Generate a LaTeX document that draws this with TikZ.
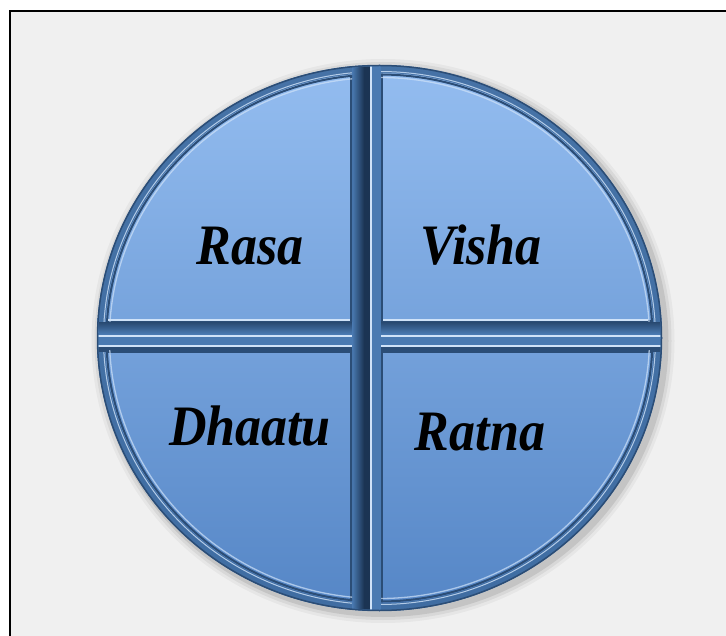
\documentclass[tikz,border=0pt]{standalone}
\usepackage{fontspec}
\setmainfont{Liberation Serif}
\usepackage{graphicx}
\definecolor{Paper}{HTML}{F0F0F0}
\definecolor{Rim}{HTML}{3E6B9F}
\definecolor{RimDark}{HTML}{2B4D76}
\definecolor{Groove}{HTML}{1B3453}
\definecolor{GrooveMid}{HTML}{4A7AB2}
\definecolor{Shine}{HTML}{CFE2F8}
\definecolor{TopBlue}{HTML}{94BDF0}
\definecolor{LowBlue}{HTML}{5586C6}
\newcommand{\tallword}[1]{\scalebox{1}[1.1]{#1}}

\begin{document}
\begin{tikzpicture}[x=1pt,y=-1pt,
  word/.style={font=\bfseries\itshape\fontsize{52}{60}\selectfont,anchor=base,inner sep=0pt},
  bevel/.style={draw=RimDark,line width=4pt},
  shine/.style={draw=Shine,line width=1.3pt}
]
\useasboundingbox (0,0) rectangle (726,636);
\fill[white] (0,0) rectangle (726,636);
\fill[Paper] (10,11) rectangle (726,636);
\draw[line width=2.4pt] (10,636) -- (10,11) -- (726,11);

% soft shadow
\foreach \s/\o in {9/0.04,6/0.06,3/0.09}
  \fill[black,opacity=\o] (383,341) ellipse [x radius=282.5+\s, y radius=273+\s];

% disc and rim
\shade[top color=TopBlue,bottom color=LowBlue] (379.5,338) ellipse [x radius=282.5, y radius=273];
\draw[Rim,line width=8pt,opacity=0.9] (379.5,338) ellipse [x radius=278.5, y radius=269];
\draw[RimDark,line width=1.5pt] (379.5,338) ellipse [x radius=282, y radius=272.5];
\draw[Shine,line width=1pt,opacity=0.8] (379.5,338) ellipse [x radius=276, y radius=266.5];

% grooves
\begin{scope}
  \clip (379.5,338) ellipse [x radius=281, y radius=271.5];
  \shade[top color=RimDark,bottom color=GrooveMid] (0,323) rectangle (760,334);
  \fill[GrooveMid] (0,334) rectangle (760,347);
  \fill[RimDark] (0,347) rectangle (760,352);
  \draw[shine] (0,336) -- (760,336) (0,346) -- (760,346);
  \shade[left color=GrooveMid,right color=Groove] (352,0) rectangle (364,700);
  \fill[Groove] (364,0) rectangle (370,700);
  \fill[GrooveMid] (370,0) rectangle (381,700);
  \draw[shine] (371,0) -- (371,700);
\end{scope}

% bevelled quarters
\foreach \xa/\ya/\xb/\yb in {0/0/352/322, 381/0/760/322, 0/351/352/700, 381/351/760/700}{
  \begin{scope}
    \clip (\xa,\ya) rectangle (\xb,\yb);
    \clip (379.5,338) ellipse [x radius=274, y radius=264.5];
    \draw[bevel] (\xa,\ya) rectangle (\xb,\yb);
    \draw[bevel] (379.5,338) ellipse [x radius=274, y radius=264.5];
    \draw[shine,opacity=0.7] (379.5,338) ellipse [x radius=270, y radius=260.5];
  \end{scope}
}
\draw[shine,line width=2pt] (108,320) -- (350,320);
\draw[shine,line width=2pt] (383,320) -- (648,320);

% labels
\node[word] (rasa) at (250,265) {\tallword{Rasa}};
\node[word] (visha) at (481,265) {\tallword{Visha}};
\node[word] (dhaatu) at (250,446) {\tallword{Dhaatu}};
\node[word] (ratna) at (480,450) {\tallword{Ratna}};
\end{tikzpicture}
\end{document}
